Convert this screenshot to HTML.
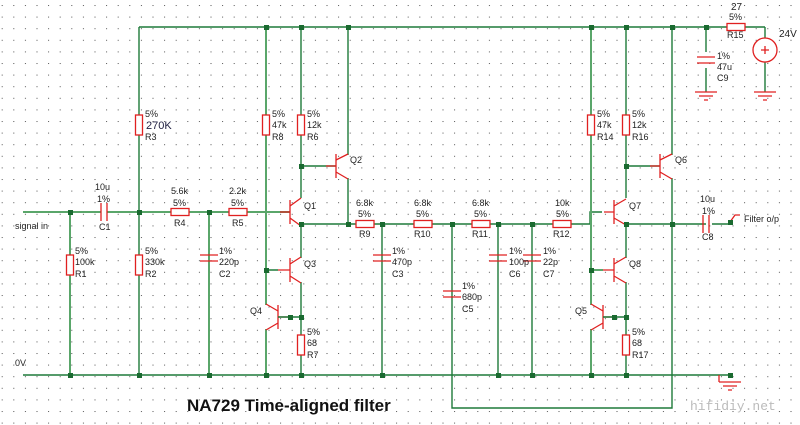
<!DOCTYPE html>
<html><head><meta charset="utf-8"><style>
body{margin:0;background:#fff}
svg{display:block}
text{font-family:"Liberation Sans",sans-serif;font-size:9px;fill:#222}
.w{stroke:#1e7a3a;stroke-width:1.4;fill:none}
.wl{stroke:#5aa66a;stroke-width:2;fill:none}
.r{stroke:#e02020;stroke-width:1.3;fill:none}
.n{fill:#1a6a30}
</style></head><body>
<svg width="800" height="425" viewBox="0 0 800 425">
<defs>
<pattern id="g" x="1.7" y="5" width="11.6" height="11.6" patternUnits="userSpaceOnUse"><rect width="1" height="1" fill="#555"/></pattern>
</defs>
<rect width="800" height="425" fill="url(#g)"/>

<g class="w">
<path d="M139 27H765M139 27V375M23 375H730"/>
<path d="M301 27V198M301 166H336M348 27V155"/>
<path d="M301 224H590V212H602M626 224H706M712 224H730"/>
<path d="M301 224V258M301 282V375M266 270H278"/>
<path d="M626 27V198M626 166H660M626 224V258M626 282V375"/>
<path d="M348 178V224"/>
<path d="M452 224V408H672V178M672 27V155"/>
<path d="M498 224V375M532 224V375M382 224V375"/>
<path d="M706 27V52M706 68V92M765 27V38M765 62V92"/>
</g>
<g class="wl">
<path d="M23 212H290M70 212V375M209 212V375M266 27V305M266 329V375M591 27V305M591 329V375M591 270H603"/>
</g>
<g class="r">
<rect x="135.5" y="115" width="7" height="20" fill="#fff"/>
<rect x="66.5" y="255" width="7" height="20" fill="#fff"/>
<rect x="135.5" y="255" width="7" height="20" fill="#fff"/>
<rect x="262.5" y="115" width="7" height="20" fill="#fff"/>
<rect x="297.5" y="115" width="7" height="20" fill="#fff"/>
<rect x="297.5" y="335" width="7" height="20" fill="#fff"/>
<rect x="587.5" y="115" width="7" height="20" fill="#fff"/>
<rect x="622.5" y="115" width="7" height="20" fill="#fff"/>
<rect x="622.5" y="335" width="7" height="20" fill="#fff"/>
<rect x="171" y="208.5" width="18" height="7" fill="#fff"/>
<rect x="229" y="208.5" width="18" height="7" fill="#fff"/>
<rect x="356" y="220.5" width="18" height="7" fill="#fff"/>
<rect x="414" y="220.5" width="18" height="7" fill="#fff"/>
<rect x="472" y="220.5" width="18" height="7" fill="#fff"/>
<rect x="553" y="220.5" width="18" height="7" fill="#fff"/>
<rect x="727" y="23.5" width="18" height="7" fill="#fff"/>
</g>
<rect x="101" y="208" width="6" height="8" fill="#fff"/>
<g class="r">
<path d="M101 203V221M107 203V221"/>
<path d="M200 255H218M200 261H218M373 255H391M373 261H391M489 255H507M489 261H507M523 255H541M523 261H541M443 291H461M443 297H461M697 57H715M697 63H715M703 215V233M709 215V233"/>
<circle cx="765" cy="50" r="12" fill="#fff"/><path d="M761 50H769M765 46V54"/>
<path d="M695 92H717M699 96H713M704 100H708M754 92H776M758 96H772M763 100H767M719 375V382M719 382H741M723 386H737M728 390H732"/>
<path d="M730 222L735 215H740"/>
</g>
<g class="r">
<path d="M290 200V224M290 212H280M290 206L301 198M290 218L301 226"/>
<path d="M336 154V178M336 166H326M336 160L348 154M336 172L348 179"/>
<path d="M290 258V282M290 270H278M290 264L301 257M290 276L301 283"/>
<path d="M278 305V329M278 317H290M278 311L266 304M278 323L266 330"/>
<path d="M614 200V224M614 212H604M614 206L626 199M614 218L626 225"/>
<path d="M660 154V178M660 166H650M660 160L672 154M660 172L672 179"/>
<path d="M614 258V282M614 270H603M614 264L626 257M614 276L626 283"/>
<path d="M603 305V329M603 317H614M603 311L591 304M603 323L591 330"/>
</g>
<path class="w" d="M278 317H301M603 317H626"/>
<g class="n">
<rect x="264" y="25" width="5" height="5"/><rect x="299" y="25" width="5" height="5"/><rect x="346" y="25" width="5" height="5"/>
<rect x="589" y="25" width="5" height="5"/><rect x="624" y="25" width="5" height="5"/><rect x="670" y="25" width="5" height="5"/><rect x="704" y="25" width="5" height="5"/>
<rect x="68" y="210" width="5" height="5"/><rect x="137" y="210" width="5" height="5"/><rect x="207" y="210" width="5" height="5"/>
<rect x="299" y="164" width="5" height="5"/><rect x="624" y="164" width="5" height="5"/>
<rect x="299" y="222" width="5" height="5"/><rect x="346" y="222" width="5" height="5"/><rect x="380" y="222" width="5" height="5"/><rect x="450" y="222" width="5" height="5"/><rect x="496" y="222" width="5" height="5"/><rect x="530" y="222" width="5" height="5"/><rect x="624" y="222" width="5" height="5"/><rect x="670" y="222" width="5" height="5"/><rect x="728" y="220" width="5" height="5"/>
<rect x="264" y="268" width="5" height="5"/><rect x="589" y="268" width="5" height="5"/>
<rect x="288" y="315" width="5" height="5"/><rect x="299" y="315" width="5" height="5"/><rect x="612" y="315" width="5" height="5"/><rect x="624" y="315" width="5" height="5"/>
<rect x="68" y="373" width="5" height="5"/><rect x="137" y="373" width="5" height="5"/><rect x="207" y="373" width="5" height="5"/><rect x="264" y="373" width="5" height="5"/><rect x="299" y="373" width="5" height="5"/><rect x="380" y="373" width="5" height="5"/><rect x="496" y="373" width="5" height="5"/><rect x="530" y="373" width="5" height="5"/><rect x="589" y="373" width="5" height="5"/><rect x="624" y="373" width="5" height="5"/><rect x="728" y="373" width="5" height="5"/>
</g>
<text x="15" y="229">signal in</text><text x="15" y="366">0V</text>
<text x="95" y="190">10u</text><text x="97" y="202">1%</text><text x="99" y="230">C1</text>
<text x="171" y="194">5.6k</text><text x="173" y="206">5%</text><text x="174" y="226">R4</text>
<text x="229" y="194">2.2k</text><text x="231" y="206">5%</text><text x="232" y="226">R5</text>
<text x="145" y="117">5%</text><text x="146" y="129" style="font-size:11px;fill:#224">270K</text><text x="145" y="140">R3</text>
<text x="75" y="254">5%</text><text x="75" y="265">100k</text><text x="75" y="277">R1</text>
<text x="145" y="254">5%</text><text x="145" y="265">330k</text><text x="145" y="277">R2</text>
<text x="219" y="254">1%</text><text x="219" y="265">220p</text><text x="219" y="277">C2</text>
<text x="272" y="117">5%</text><text x="272" y="128">47k</text><text x="272" y="140">R8</text>
<text x="307" y="117">5%</text><text x="307" y="128">12k</text><text x="307" y="140">R6</text>
<text x="350" y="163">Q2</text><text x="304" y="209">Q1</text><text x="304" y="267">Q3</text><text x="250" y="314">Q4</text>
<text x="307" y="335">5%</text><text x="307" y="346">68</text><text x="307" y="358">R7</text>
<text x="356" y="206">6.8k</text><text x="358" y="217">5%</text><text x="359" y="237">R9</text>
<text x="414" y="206">6.8k</text><text x="416" y="217">5%</text><text x="414" y="237">R10</text>
<text x="472" y="206">6.8k</text><text x="474" y="217">5%</text><text x="472" y="237">R11</text>
<text x="555" y="206">10k</text><text x="556" y="217">5%</text><text x="553" y="237">R12</text>
<text x="392" y="254">1%</text><text x="392" y="265">470p</text><text x="392" y="277">C3</text>
<text x="462" y="289">1%</text><text x="462" y="300">680p</text><text x="462" y="312">C5</text>
<text x="509" y="254">1%</text><text x="509" y="265">100p</text><text x="509" y="277">C6</text>
<text x="543" y="254">1%</text><text x="543" y="265">22p</text><text x="543" y="277">C7</text>
<text x="597" y="117">5%</text><text x="597" y="128">47k</text><text x="597" y="140">R14</text>
<text x="632" y="117">5%</text><text x="632" y="128">12k</text><text x="632" y="140">R16</text>
<text x="675" y="163">Q6</text><text x="629" y="209">Q7</text><text x="629" y="267">Q8</text><text x="575" y="314">Q5</text>
<text x="632" y="335">5%</text><text x="632" y="346">68</text><text x="632" y="358">R17</text>
<text x="700" y="202">10u</text><text x="702" y="214">1%</text><text x="702" y="240">C8</text>
<text x="744" y="222">Filter o/p</text>
<text x="717" y="59">1%</text><text x="717" y="70">47u</text><text x="717" y="81">C9</text>
<text x="731" y="10" style="font-size:10px">27</text><text x="729" y="20">5%</text><text x="727" y="38">R15</text>
<text x="779" y="37" style="font-size:10px">24V</text>
<text x="187" y="411" style="font-size:17px;font-weight:bold;fill:#111">NA729 Time-aligned filter</text>
<text x="690" y="410" style="font-family:'Liberation Mono',monospace;font-size:13px;fill:#bbb">hifidiy.net</text>
</svg>
</body></html>
